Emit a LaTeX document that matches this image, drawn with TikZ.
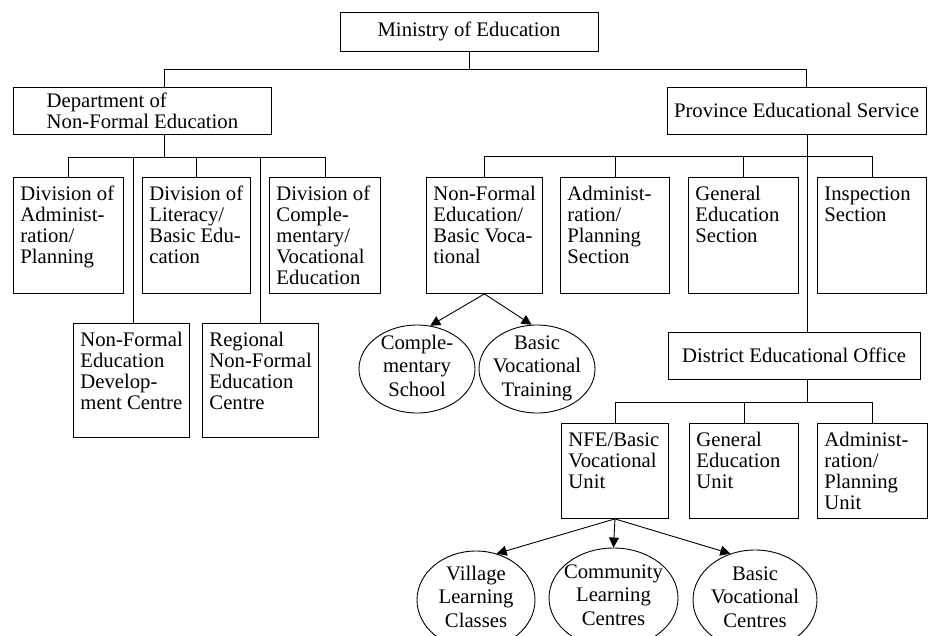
\documentclass[tikz,border=0pt]{standalone}
\usepackage{fontspec}
\setmainfont{Liberation Serif}
\usetikzlibrary{shapes.geometric,arrows.meta}
\newcommand{\fs}{\fontsize{20.7}{21}\selectfont}
% text box: name, x, y (top-left), width, height, text
\newcommand{\tb}[6]{\node[tbox] (#1) at (#2,#3) {\parbox[t][#5pt][t]{#4pt}{\raggedright\leftskip=7pt\rule{0pt}{23.5pt}\ignorespaces#6}};}
\newcommand{\zb}[1]{\smash{\makebox[0pt]{\raisebox{-4.5pt}{\renewcommand{\arraystretch}{1.1}\begin{tabular}{@{}c@{}}#1\end{tabular}}}}}
\begin{document}
\begin{tikzpicture}[x=1pt,y=-1pt,line width=0.9pt,
  every node/.style={font=\fs},
  tbox/.style={draw, anchor=north west, inner sep=0pt},
  cbox/.style={draw, inner sep=0pt},
  oval/.style={ellipse, draw, inner sep=0pt},
  arr/.style={-{Triangle[length=10pt,width=10pt]}}]
\clip (0,0) rectangle (929,635);
% top level
\node[cbox, minimum width=258, minimum height=39] (min) at (469,31.5) {Ministry of Education};
\node[draw, anchor=north west, inner sep=0pt, align=left, minimum width=258, minimum height=47] (dept) at (13,87) {Department of\\Non-Formal Education};
\node[cbox, minimum width=259, minimum height=47] (prov) at (796.5,110.5) {Province Educational Service};
% left divisions
\tb{d1}{13}{177}{110}{116}{Division of\\Administ-\\ration/\\Planning}
\tb{d2}{142}{177}{108}{116}{Division of\\Literacy/\\Basic Edu-\\cation}
\tb{d3}{269}{177}{111}{116}{Division of\\Comple-\\mentary/\\Vocational\\Education}
\tb{ndc}{73}{323}{116}{114}{Non-Formal\\Education\\Develop-\\ment Centre}
\tb{rnfe}{202}{323}{116}{114}{Regional\\Non-Formal\\Education\\Centre}
% province sections
\tb{sn}{426}{177}{116}{116}{Non-Formal\\Education/\\Basic Voca-\\tional}
\tb{sa}{560}{177}{109}{116}{Administ-\\ration/\\Planning\\Section}
\tb{sg}{688}{177}{110}{116}{General\\Education\\Section}
\tb{si}{817}{177}{109}{116}{Inspection\\Section}
% district
\node[cbox, minimum width=252, minimum height=47] (dist) at (794,355.5) {District Educational Office};
\tb{un}{561}{423}{107}{95}{NFE/Basic\\Vocational\\Unit}
\tb{ug}{689}{423}{109}{95}{General\\Education\\Unit}
\tb{ua}{817}{423}{110}{95}{Administ-\\ration/\\Planning\\Unit}
% ellipses
\node[oval, minimum width=116, minimum height=88] (cs) at (417,369) {\zb{Comple-\\mentary\\School}};
\node[oval, minimum width=116, minimum height=88] (bvt) at (537,369) {\zb{Basic\\Vocational\\Training}};
\node[oval, minimum width=118, minimum height=98] (vlc) at (476,600) {\zb{Village\\Learning\\Classes}};
\node[oval, minimum width=129, minimum height=100] (clc) at (613.5,598) {\zb{Community\\Learning\\Centres}};
\node[oval, minimum width=124, minimum height=100] (bvc) at (755,600) {\zb{Basic\\Vocational\\Centres}};
% connectors
\draw (min.south) -- ++(0,18) coordinate (mj);
\draw ([xshift=151]dept.north west) |- (mj) -| ([xshift=140]prov.north west);
\draw ([xshift=151]dept.south west) -- ++(0,23) coordinate (dj);
\draw (d1.north) |- (dj) -| (d3.north);
\draw (d2.north) -- (d2.north |- dj);
\draw ([xshift=60]ndc.north west) -- ([xshift=60]ndc.north west |- dj);
\draw (rnfe.north) -- (rnfe.north |- dj);
\draw ([xshift=141]prov.south west) -- ([xshift=140]dist.north west);
\path ([xshift=141]prov.south west) ++(0,22) coordinate (pj);
\draw (sn.north) |- (pj) -| (si.north);
\draw (sa.north) -- (sa.north |- pj);
\draw (sg.north) -- (sg.north |- pj);
\draw ([xshift=140]dist.south west) -- ++(0,23) coordinate (uj);
\draw (un.north) |- (uj) -| (ua.north);
\draw (ug.north) -- (ug.north |- uj);
\draw[arr] (sn.south) -- (cs.73);
\draw[arr] (sn.south) -- (bvt.97);
\draw[arr] (un.south) -- (vlc.66);
\draw[arr] (un.south) -- (clc.north);
\draw[arr] (un.south) -- (bvc.118);
\end{tikzpicture}
\end{document}
